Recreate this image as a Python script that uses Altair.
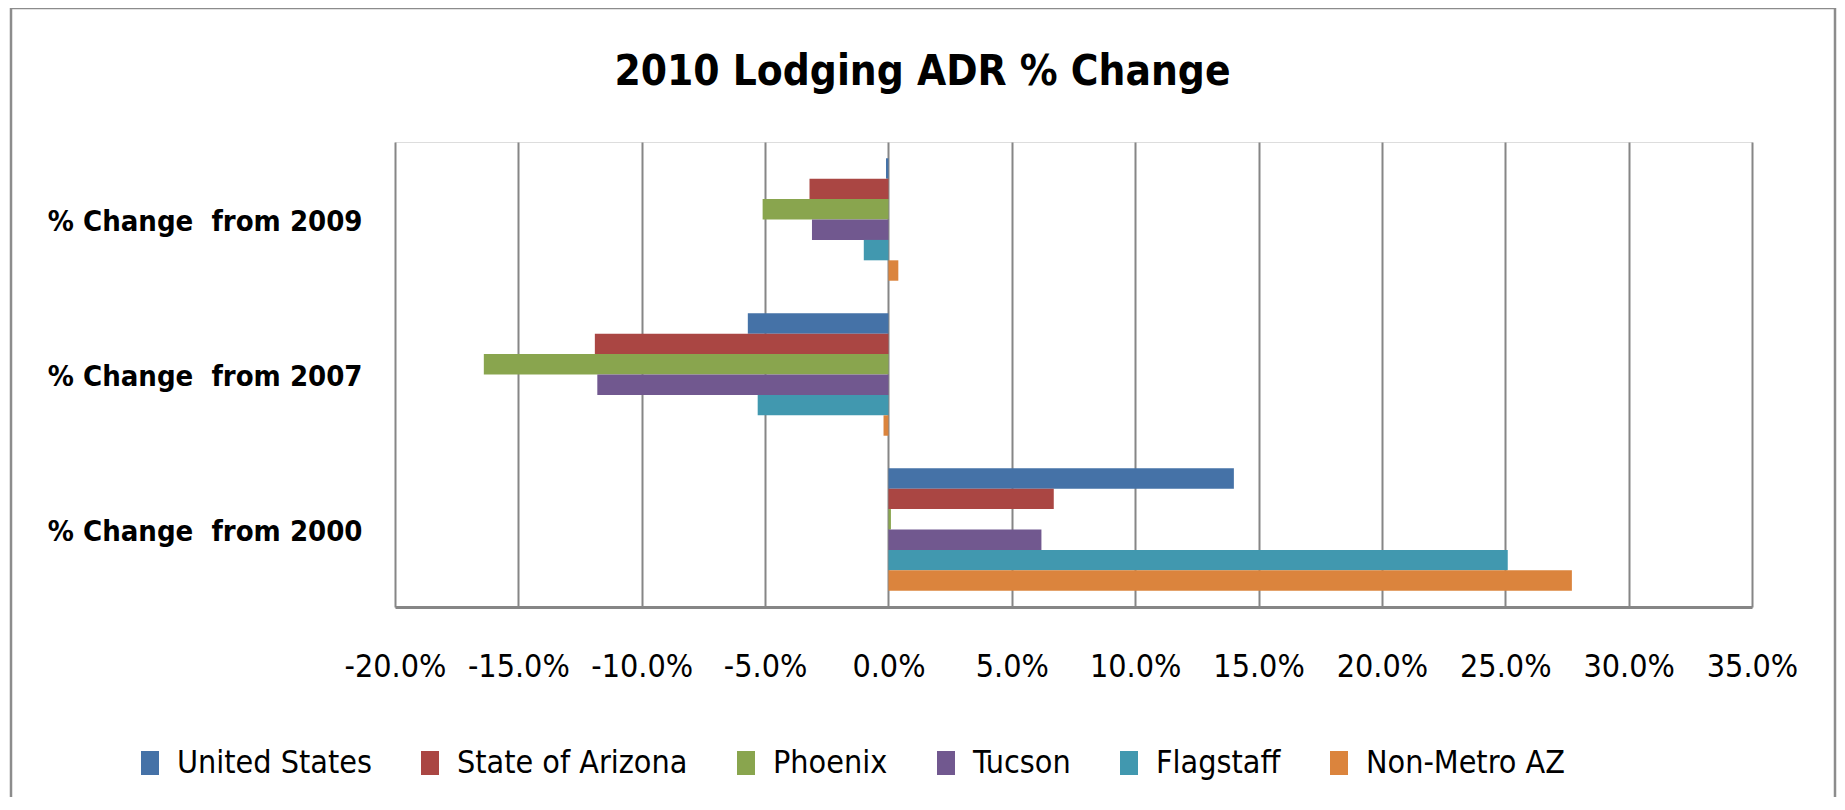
import altair as alt
import pandas as pd

categories = ["% Change\u00a0 from 2009", "% Change\u00a0 from 2007", "% Change\u00a0 from 2000"]
series = ["United States", "State of Arizona", "Phoenix", "Tucson", "Flagstaff", "Non-Metro AZ"]
colors = ["#4572A7", "#AA4643", "#89A54E", "#71588F", "#4198AF", "#DB843D"]
v2009 = [-0.1, -3.2, -5.1, -3.1, -1.0, 0.4]
v2007 = [-5.7, -11.9, -16.4, -11.8, -5.3, -0.2]
v2000 = [14.0, 6.7, 0.1, 6.2, 25.1, 27.7]
tick_values = [-0.20, -0.15, -0.10, -0.05, 0.0, 0.05, 0.10, 0.15, 0.20, 0.25, 0.30, 0.35]

rows = []
for cat, vals in zip(categories, [v2009, v2007, v2000]):
    for s, v in zip(series, vals):
        rows.append({"category": cat, "series": s, "value": v / 100.0})
df = pd.DataFrame(rows)

FONT = "Liberation Sans Narrow, DejaVu Sans Condensed, Liberation Sans, sans-serif"
W, H = 1357, 465

border = alt.Chart(alt.Data(values=[{"a": 1}])).mark_rect(
    filled=False, stroke="#8c8c8c", strokeWidth=2.5
).encode(
    x=alt.value(-384), x2=alt.value(1440), y=alt.value(-134), y2=alt.value(700)
)

bars = alt.Chart(df).mark_bar().encode(
    x=alt.X("value:Q",
            scale=alt.Scale(domain=[-0.2, 0.35], nice=False, zero=False),
            axis=alt.Axis(values=tick_values, title=None, grid=True,
                          labelExpr="replace(format(datum.value, '.1%'), '\u2212', '-')",
                          gridColor="#868686", gridWidth=2, domainColor="#868686",
                          domainWidth=3, ticks=False, labelFont=FONT, labelFontSize=32,
                          labelColor="black", labelPadding=59, labelBaseline="middle",
                          labelFlush=False, labelOverlap=False)),
    y=alt.Y("category:N", sort=categories,
            scale=alt.Scale(paddingInner=0.21, paddingOuter=0.105),
            axis=alt.Axis(title=None, ticks=False, domain=False, grid=False,
                          labelFont=FONT, labelFontSize=29, labelFontWeight="bold",
                          labelColor="black", labelPadding=33, labelLimit=600,
                          labelOffset=2)),
    yOffset=alt.YOffset("series:N", sort=series,
                        scale=alt.Scale(paddingInner=0, paddingOuter=0)),
    color=alt.Color("series:N", sort=series,
                    scale=alt.Scale(domain=series, range=colors),
                    legend=alt.Legend(title=None, orient="none", legendX=-261, legendY=605,
                                      direction="horizontal", columns=6,
                                      symbolType="M-0.75,-1H0.75V1H-0.75Z", symbolSize=576,
                                      symbolStrokeWidth=0, symbolOpacity=1,
                                      labelFont=FONT, labelFontSize=32, labelColor="black",
                                      labelOffset=11, columnPadding=42, labelLimit=600)),
)

chart = alt.layer(border, bars).properties(
    width=W, height=H,
    title=alt.Title("2010 Lodging ADR % Change", font=FONT, fontSize=42, fontWeight="bold",
                    color="black", anchor="middle", dx=-151, offset=-120,
                    baseline="alphabetic"),
    padding={"left": 387, "top": 134, "right": 85, "bottom": 190},
    autosize=alt.AutoSizeParams(type="none"),
).configure_view(stroke=None).configure(background="white")

chart.save("out.html", embed_options={"renderer": "svg", "actions": False})
